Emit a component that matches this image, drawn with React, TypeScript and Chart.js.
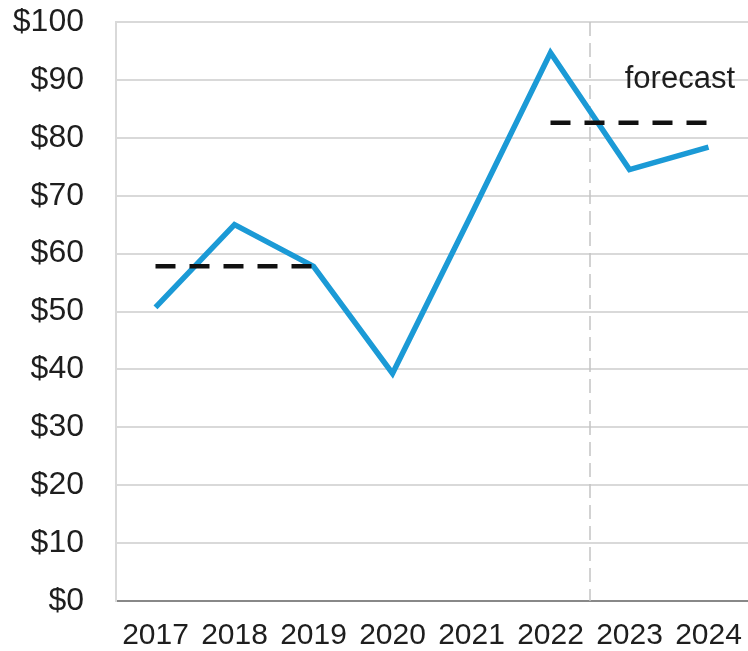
import React, { useEffect, useRef } from "react";
import { Chart, registerables } from "chart.js";

Chart.register(...registerables);

const years = ["2017", "2018", "2019", "2020", "2021", "2022", "2023", "2024"];
const prices = [50.7, 65.0, 57.8, 39.3, 66.8, 94.7, 74.5, 78.4];
const avg2017to2019 = [57.8, 57.8, 57.8, null, null, null, null, null];
const avg2022to2024 = [null, null, null, null, null, 82.6, 82.6, 82.6];
const yMin = 0;
const yMax = 100;
const yStep = 10;
const forecastLabel = "forecast";
const forecastLabelValue = 88.6;
const forecastStartAfterIndex = 5;

const FONT = '"Liberation Sans", Arial, sans-serif';

const forecastPlugin = {
  id: "forecastMarks",
  beforeDatasetsDraw(chart: any) {
    const { ctx, chartArea, scales } = chart;
    const xs = scales.x;
    const px =
      (xs.getPixelForValue(forecastStartAfterIndex) +
        xs.getPixelForValue(forecastStartAfterIndex + 1)) /
      2;
    ctx.save();
    ctx.strokeStyle = "#c4c4c4";
    ctx.lineWidth = 1.5;
    ctx.setLineDash([14, 7]);
    ctx.beginPath();
    ctx.moveTo(px, chartArea.top);
    ctx.lineTo(px, chartArea.bottom);
    ctx.stroke();
    ctx.restore();
  },
  afterDatasetsDraw(chart: any) {
    const { ctx, chartArea, scales } = chart;
    ctx.save();
    ctx.font = `31px ${FONT}`;
    ctx.fillStyle = "#1e1e1e";
    ctx.textAlign = "right";
    ctx.textBaseline = "alphabetic";
    ctx.fillText(forecastLabel, chartArea.right - 13, scales.y.getPixelForValue(forecastLabelValue));
    ctx.restore();
  },
};

export default function App() {
  const canvasRef = useRef<HTMLCanvasElement | null>(null);

  useEffect(() => {
    if (!canvasRef.current) return;
    const chart = new Chart(canvasRef.current, {
      type: "line",
      data: {
        labels: years,
        datasets: [
          {
            label: "2017-2019 average",
            data: avg2017to2019,
            borderColor: "#111111",
            borderWidth: 4.5,
            borderDash: [20, 14],
            pointRadius: 0,
            tension: 0,
            spanGaps: false,
            order: 1,
          },
          {
            label: "2022-2024 average",
            data: avg2022to2024,
            borderColor: "#111111",
            borderWidth: 4.5,
            borderDash: [20, 14],
            pointRadius: 0,
            tension: 0,
            spanGaps: false,
            order: 1,
          },
          {
            label: "Price",
            data: prices,
            borderColor: "#1b9ad6",
            borderWidth: 5.5,
            borderJoinStyle: "miter",
            pointRadius: 0,
            tension: 0,
            order: 2,
          },
        ],
      },
      options: {
        responsive: false,
        animation: false,
        layout: { padding: { top: 22, left: 0, right: 0, bottom: 0 } },
        plugins: {
          legend: { display: false },
          tooltip: { enabled: false },
          title: { display: false },
        },
        scales: {
          x: {
            offset: true,
            grid: { display: false, drawTicks: false },
            border: { display: true, color: "#888888", width: 2 },
            ticks: {
              color: "#1e1e1e",
              font: { family: FONT, size: 30 },
              padding: 17,
              maxRotation: 0,
              autoSkip: false,
            },
            afterFit(scale: any) {
              scale.height = 50;
              scale.paddingLeft = 0;
              scale.paddingRight = 0;
              scale.paddingTop = 0;
              scale.paddingBottom = 0;
            },
          },
          y: {
            min: yMin,
            max: yMax,
            grid: { color: "#d9d9d9", lineWidth: 2, drawTicks: false },
            border: { display: true, color: "#d9d9d9", width: 2 },
            ticks: {
              stepSize: yStep,
              color: "#1e1e1e",
              font: { family: FONT, size: 32 },
              padding: 32,
              callback: (v: any) => "$" + v,
            },
            afterFit(scale: any) {
              scale.width = 116;
              scale.paddingLeft = 0;
              scale.paddingRight = 0;
              scale.paddingTop = 0;
              scale.paddingBottom = 0;
            },
          },
        },
      },
      plugins: [forecastPlugin],
    });
    return () => chart.destroy();
  }, []);

  return (
    <div style={{ position: "fixed", left: 0, top: 0, width: 748, height: 651, background: "#ffffff" }}>
      <canvas ref={canvasRef} width={748} height={651} style={{ display: "block" }} />
    </div>
  );
}
